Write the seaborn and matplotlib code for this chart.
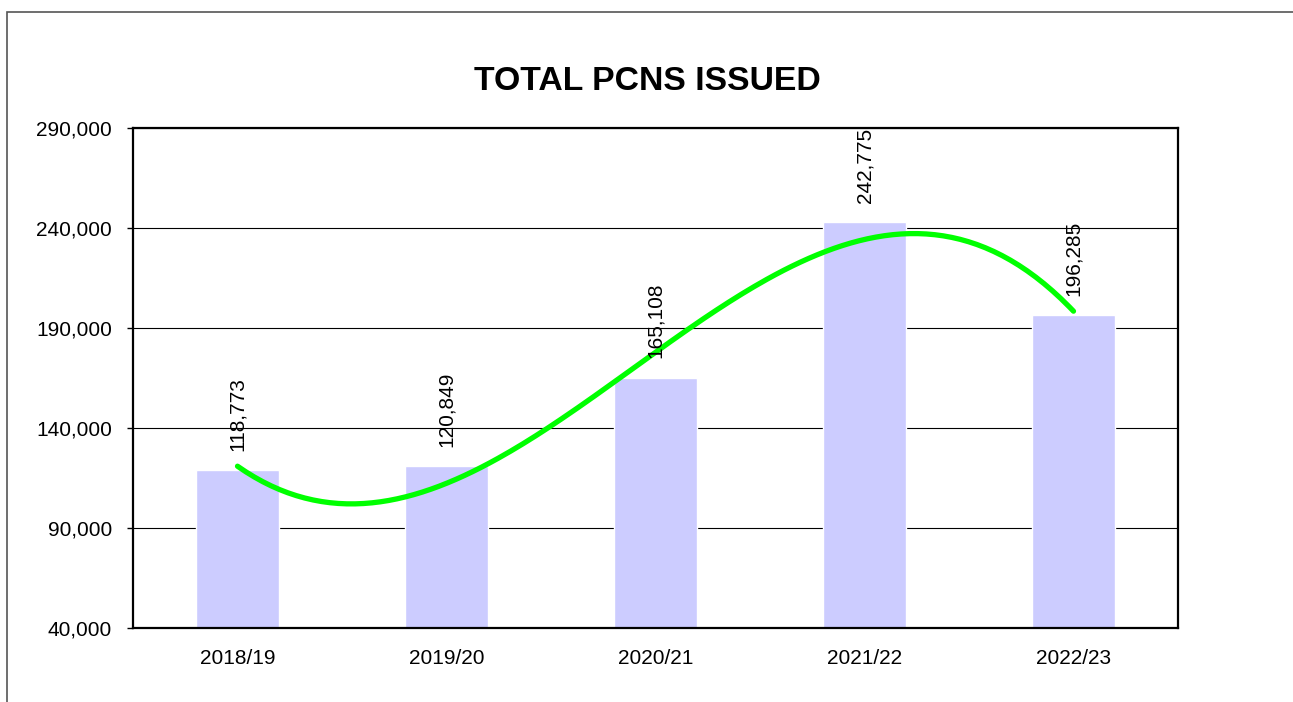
import numpy as np
import pandas as pd
import matplotlib
matplotlib.use("Agg")
import matplotlib.pyplot as plt
import matplotlib.patches as mpatches
import seaborn as sns

# --- Data ---
years = ["2018/19", "2019/20", "2020/21", "2021/22", "2022/23"]
pcns = [118773, 120849, 165108, 242775, 196285]

df = pd.DataFrame({"year": years, "pcns": pcns})

# --- Style ---
sns.set_style("white")
plt.rcParams["font.family"] = ["Liberation Sans", "DejaVu Sans"]
plt.rcParams["text.color"] = "black"
plt.rcParams["xtick.color"] = "black"
plt.rcParams["ytick.color"] = "black"

W, H = 1293, 702
fig = plt.figure(figsize=(W / 100, H / 100), dpi=100)
ax = fig.add_axes([133 / W, 1 - 628 / H, (1178 - 133) / W, 500 / H])

sns.barplot(data=df, x="year", y="pcns", color="#CCCCFF", saturation=1,
            width=0.4, ax=ax, zorder=2)

# cubic trendline, as in the original spreadsheet chart
xs = np.arange(1, len(pcns) + 1)
coef = np.polyfit(xs, pcns, 3)
xfine = np.linspace(1, len(pcns), 200)
ax.plot(xfine - 1, np.polyval(coef, xfine), color="#00FF00", lw=3.8,
        solid_capstyle="round", zorder=4)

# data labels
for i, v in enumerate(pcns):
    ax.annotate(f"{v:,}", (i, v), xytext=(0, 14), textcoords="offset points",
                rotation=90, ha="center", va="bottom", fontsize=15,
                color="black", zorder=5)

# --- Axes ---
ax.set_ylim(40000, 290000)
ax.set_xlim(-0.5, len(pcns) - 0.5)
ax.set_yticks(np.arange(40000, 290001, 50000))
ax.yaxis.set_major_formatter(matplotlib.ticker.FuncFormatter(lambda v, p: f"{int(v):,}"))
ax.set_xticks(range(len(years)))
ax.set_xticks(np.arange(-0.5, len(pcns)), minor=True)
ax.tick_params(axis="x", which="major", length=0, pad=15, labelsize=15,
               labelcolor="black")
ax.tick_params(axis="x", which="minor", length=5, width=1, direction="out", color="black")
ax.tick_params(axis="y", length=4, width=1, pad=11, labelsize=15, direction="out",
               color="black", labelcolor="black", left=True)
ax.set_xlabel("")
ax.set_ylabel("")
ax.grid(axis="y", color="black", lw=0.8, zorder=1)
ax.set_axisbelow(True)
for s in ax.spines.values():
    s.set_visible(True)
    s.set_color("black")
    s.set_linewidth(1.6)

fig.text(647 / W, 1 - 82 / H, "TOTAL PCNS ISSUED", ha="center", va="center",
         fontsize=24.3, fontweight="bold", color="black")

# outer chart frame
fig.patches.append(mpatches.Rectangle((7 / W, -0.1), 1.2, (H - 12) / H + 0.1,
                                      transform=fig.transFigure, fill=False,
                                      edgecolor="#555555", lw=1.2, clip_on=False))

fig.savefig("out.png", dpi=100)
